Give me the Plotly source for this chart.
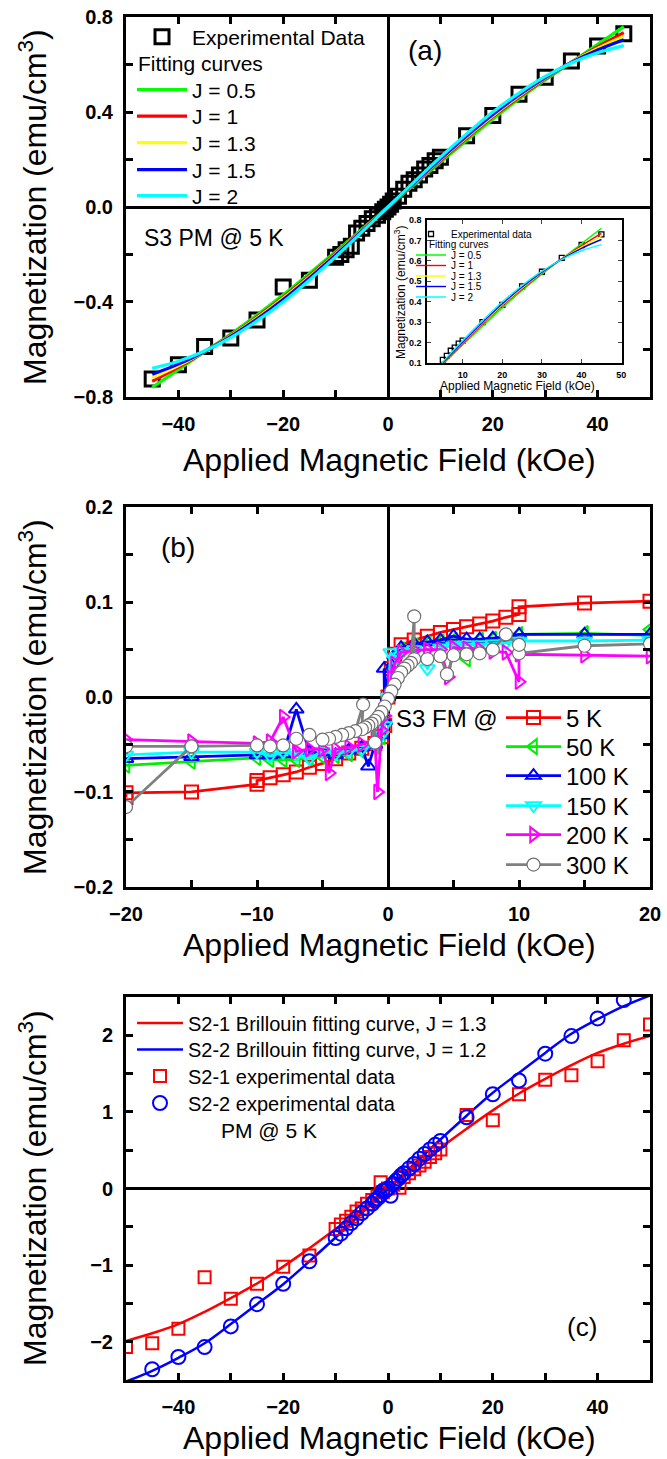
import plotly.graph_objects as go

W, H = 667, 1459
FONT = "Liberation Sans, Arial, sans-serif"

# ---------------- Panel (a) data ----------------
exp_a_x = [-45, -40, -35, -30, -25, -20, -15, -10, -9, -8, -7, -6, -5, -4, -3, -2, -1, -0.5, 0,
           0.5, 1, 2, 3, 4, 5, 6, 7, 8, 9, 10, 15, 20, 25, 30, 35, 40, 45]
exp_a_y = [-0.725, -0.665, -0.588, -0.552, -0.476, -0.337, -0.309, -0.212, -0.2, -0.18, -0.165,
           -0.11, -0.09, -0.07, -0.05, -0.035, -0.02, -0.01, 0.0,
           0.012, 0.025, 0.045, 0.075, 0.1, 0.115, 0.135, 0.16, 0.175, 0.195, 0.21,
           0.3, 0.385, 0.475, 0.547, 0.615, 0.678, 0.73]

fit_a_x = [-45, -40, -35, -30, -25, -20, -15, -10, -5, 0, 5, 10, 15, 20, 25, 30, 35, 40, 45]
fit_j05 = [-0.76, -0.685, -0.61, -0.535, -0.455, -0.37, -0.28, -0.188, -0.094, 0,
           0.094, 0.188, 0.28, 0.37, 0.455, 0.535, 0.61, 0.685, 0.76]
fit_j1 = [-0.735, -0.675, -0.61, -0.54, -0.463, -0.38, -0.29, -0.195, -0.098, 0,
          0.098, 0.195, 0.29, 0.38, 0.463, 0.54, 0.61, 0.675, 0.735]
fit_j13 = [-0.72, -0.668, -0.61, -0.543, -0.468, -0.385, -0.295, -0.199, -0.1, 0,
           0.1, 0.199, 0.295, 0.385, 0.468, 0.543, 0.61, 0.668, 0.72]
fit_j15 = [-0.705, -0.662, -0.609, -0.545, -0.472, -0.39, -0.299, -0.202, -0.102, 0,
           0.102, 0.202, 0.299, 0.39, 0.472, 0.545, 0.609, 0.662, 0.705]
fit_j2 = [-0.68, -0.65, -0.607, -0.55, -0.48, -0.4, -0.308, -0.21, -0.106, 0,
          0.106, 0.21, 0.308, 0.4, 0.48, 0.55, 0.607, 0.65, 0.68]
fit_names = ["J = 0.5", "J = 1", "J = 1.3", "J = 1.5", "J = 2"]
fit_colors = ["#00FF00", "#FF0000", "#FFFF00", "#0000FF", "#00FFFF"]

# ---------------- Panel (b) data ----------------
b_names = ["5 K", "50 K", "100 K", "150 K", "200 K", "300 K"]
x5k = [20, 15, 10, 10, 9, 8, 7, 6, 5, 4, 3, 2, 1, 0.5, 0.25, 0, -0.25, -0.5, -1, -2, -3, -4, -5,
       -6, -7, -8, -9, -10, -10, -15, -20, -20]
y5k = [0.101, 0.099, 0.095, 0.087, 0.084, 0.080, 0.077, 0.074, 0.071, 0.068, 0.064, 0.060, 0.055,
       0.045, 0.030, 0.000, -0.030, -0.042, -0.049, -0.054, -0.059, -0.065, -0.070, -0.074,
       -0.079, -0.082, -0.085, -0.088, -0.092, -0.100, -0.101, -0.106]
x50k = [20, 20, 15, 10, 9, 8, 7, 6, 5, 4, 3, 2, 1, 0.5, 0.25, 0, -0.25, -0.5, -1, -2, -3, -4, -5,
        -6, -7, -8, -9, -10, -15, -20]
y50k = [0.071, 0.065, 0.067, 0.066, 0.063, 0.061, 0.060, 0.040, 0.060, 0.058, 0.056, 0.054, 0.050,
        0.042, 0.028, 0.000, -0.028, -0.042, -0.052, -0.057, -0.060, -0.062, -0.063, -0.064,
        -0.066, -0.066, -0.066, -0.064, -0.068, -0.072]
x100k = [20, 15, 10, 9, 8, 7, 6, 5, 4, 3, 2, 1, 0.5, 0.25, 0, -0.3, -0.25, -0.5, -1, -1.5, -2,
         -3, -4, -5, -6, -7, -8, -9, -10, -15, -20]
y100k = [0.066, 0.066, 0.066, 0.063, 0.062, 0.061, 0.061, 0.064, 0.060, 0.058, 0.056, 0.052,
         0.044, 0.030, 0.000, 0.030, -0.025, -0.040, -0.050, -0.073, -0.053, -0.056, -0.061,
         -0.058, -0.058, -0.013, -0.060, -0.061, -0.061, -0.063, -0.065]
x150k = [20, 15, 10, 9, 8, 7, 6, 5, 4, 3, 2, 1, 0.5, 0.2, 0, -0.25, -0.5, -1, -2, -3, -4, -5,
         -6, -7, -8, -9, -10, -15, -20]
y150k = [0.060, 0.059, 0.059, 0.057, 0.056, 0.055, 0.055, 0.054, 0.052, 0.030, 0.050, 0.048,
         0.040, 0.047, 0.000, -0.030, -0.040, -0.050, -0.055, -0.057, -0.060, -0.057, -0.065,
         -0.061, -0.058, -0.062, -0.058, -0.058, -0.061]
x200k = [20, 15, 10, 10, 9, 8, 7, 6, 5, 4.6, 4, 3, 2, 1, 0.5, 0.25, 0, -0.25, -0.5, -0.8, -1,
         -2, -3, -4, -4.5, -5, -6, -7, -8, -9, -10, -15, -20]
y200k = [0.043, 0.044, 0.045, 0.016, 0.047, 0.048, 0.050, 0.051, 0.052, 0.021, 0.050, 0.050,
         0.049, 0.047, 0.035, 0.020, 0.000, -0.020, -0.035, -0.100, -0.045, -0.050, -0.053,
         -0.055, -0.080, -0.055, -0.055, -0.057, -0.021, -0.047, -0.049, -0.047, -0.045]
x300k = [20, 15, 10, 10, 9, 8, 7, 6, 5, 4.5, 4, 3, 2, 2, 1.75, 1.5, 1.25, 1, 0.75, 0.5, 0.25, 0,
         -0.25, -0.5, -0.75, -1, -1, -1.25, -1.5, -1.75, -2, -1.9, -2.5, -3, -3.5, -4, -4.5, -5,
         -6, -7, -8, -9, -10, -15, -20, -15, -20]
y300k = [0.056, 0.054, 0.046, 0.055, 0.066, 0.050, 0.046, 0.045, 0.044, 0.024, 0.043, 0.040,
         0.040, 0.085, 0.036, 0.033, 0.030, 0.026, 0.020, 0.013, 0.006, -0.002,
         -0.010, -0.016, -0.021, -0.025, -0.048, -0.028, -0.030, -0.032, -0.034, -0.008,
         -0.036, -0.038, -0.040, -0.042, -0.044, -0.045,
         -0.040, -0.044, -0.051, -0.052, -0.051, -0.052, -0.052, -0.052, -0.116]
b_x = [x5k, x50k, x100k, x150k, x200k, x300k]
b_y = [y5k, y50k, y100k, y150k, y200k, y300k]
b_colors = ["#FF0000", "#00EE00", "#0000FF", "#00FFFF", "#FF00FF", "#808080"]
b_symbols = ["square-open", "triangle-left-open", "triangle-up-open", "triangle-down-open",
             "triangle-right-open", "circle"]

# ---------------- Panel (c) data ----------------
fit_c_x = [-50, -45, -40, -35, -30, -25, -20, -15, -10, -5, 0, 5, 10, 15, 20, 25, 30, 35, 40, 45, 50]
fit_c_s21 = [-1.99, -1.89, -1.77, -1.61, -1.43, -1.24, -1.02, -0.78, -0.53, -0.27, 0,
             0.27, 0.53, 0.78, 1.02, 1.24, 1.43, 1.61, 1.77, 1.89, 1.99]
fit_c_s22 = [-2.52, -2.38, -2.21, -2.02, -1.77, -1.51, -1.25, -0.95, -0.64, -0.32, 0,
             0.32, 0.64, 0.95, 1.25, 1.51, 1.77, 2.02, 2.21, 2.38, 2.52]
s21_x = [-50, -45, -40, -35, -30, -25, -20, -15, -10, -9, -8, -7, -6, -5, -4, -3, -2, -1.4, -1, 0,
         1, 2.2, 3, 4, 5, 6, 7, 8, 9, 10, 15, 20, 25, 30, 35, 40, 45, 50]
s21_y = [-2.07, -2.02, -1.83, -1.16, -1.44, -1.245, -1.02, -0.876, -0.53, -0.47, -0.42, -0.37,
         -0.3, -0.26, -0.2, -0.15, -0.1, 0.08, -0.05, 0.0, 0.05, 0.01, 0.15, 0.2, 0.25, 0.3, 0.35,
         0.41, 0.46, 0.51, 0.96, 0.89, 1.23, 1.42, 1.48, 1.66, 1.935, 2.14]
s22_x = [-45, -40, -35, -30, -25, -20, -15, -10, -9, -8, -7, -6, -5, -4, -3, -2.5, -2, -1.5, -1,
         -0.5, 0, 0.5, 1, 1.5, 2, 2.5, 3, 4, 5, 6, 7, 8, 9, 10, 15, 20, 25, 30, 35, 40, 45]
s22_y = [-2.36, -2.2, -2.07, -1.8, -1.51, -1.245, -0.95, -0.646, -0.59, -0.52, -0.45, -0.39,
         -0.32, -0.26, -0.2, -0.16, -0.13, -0.09, -0.03, -0.03, 0.0, -0.095, 0.06, 0.1, 0.13,
         0.17, 0.2, 0.26, 0.32, 0.39, 0.45, 0.51, 0.57, 0.62, 0.93, 1.23, 1.41, 1.76, 1.99, 2.22, 2.46]


def px(v):
    return v / W


def py(v):
    return 1 - v / H


fig = go.Figure()

# ---- panel (a) ----
fig.add_trace(go.Scatter(x=exp_a_x, y=exp_a_y, mode="markers", name="Experimental Data",
                         marker=dict(symbol="square-open", size=14, color="black",
                                     line=dict(width=3, color="black")),
                         xaxis="x", yaxis="y", legend="legend"))
for i, (ys, nm, col) in enumerate(zip([fit_j05, fit_j1, fit_j13, fit_j15, fit_j2], fit_names, fit_colors)):
    fig.add_trace(go.Scatter(x=fit_a_x, y=ys, mode="lines", name=nm,
                             line=dict(color=col, width=3.2, shape="spline"),
                             xaxis="x", yaxis="y", legend="legend%d" % (i + 2)))

# ---- inset ----
ins_x = [v for v in exp_a_x if v >= 4.5]
ins_y = [exp_a_y[k] for k, v in enumerate(exp_a_x) if v >= 4.5]
fig.add_trace(go.Scatter(x=ins_x, y=ins_y, mode="markers", name="Experimental data",
                         marker=dict(symbol="square-open", size=5, color="black",
                                     line=dict(width=1.3, color="black")),
                         xaxis="x4", yaxis="y4", legend="legend7"))
for i, (ys, nm, col) in enumerate(zip([fit_j05, fit_j1, fit_j13, fit_j15, fit_j2], fit_names, fit_colors)):
    fig.add_trace(go.Scatter(x=fit_a_x[9:], y=ys[9:], mode="lines", name=nm,
                             line=dict(color=col, width=1.4, shape="spline"),
                             xaxis="x4", yaxis="y4", legend="legend%d" % (i + 8)))

# ---- panel (b) ----
for i in range(6):
    mk = dict(symbol=b_symbols[i], size=13, color=b_colors[i], line=dict(width=2, color=b_colors[i]))
    if b_symbols[i] == "circle":
        mk = dict(symbol="circle", size=13, color="white", line=dict(width=1.2, color="#707070"))
    fig.add_trace(go.Scatter(x=b_x[i], y=b_y[i], mode="lines+markers", name=b_names[i],
                             line=dict(color=b_colors[i], width=2.8), marker=mk,
                             xaxis="x2", yaxis="y2", legend="legend%d" % (i + 13)))

# ---- panel (c) ----
fig.add_trace(go.Scatter(x=fit_c_x, y=fit_c_s21, mode="lines",
                         name="S2-1 Brillouin fitting curve, J = 1.3",
                         line=dict(color="#FF0000", width=2.5, shape="spline"),
                         xaxis="x3", yaxis="y3", legend="legend19"))
fig.add_trace(go.Scatter(x=fit_c_x, y=fit_c_s22, mode="lines",
                         name="S2-2 Brillouin fitting curve, J = 1.2",
                         line=dict(color="#0000FF", width=2.5, shape="spline"),
                         xaxis="x3", yaxis="y3", legend="legend20"))
fig.add_trace(go.Scatter(x=s21_x, y=s21_y, mode="markers", name="S2-1 experimental data",
                         marker=dict(symbol="square-open", size=12, color="#FF0000",
                                     line=dict(width=2, color="#FF0000")),
                         xaxis="x3", yaxis="y3", legend="legend21"))
fig.add_trace(go.Scatter(x=s22_x, y=s22_y, mode="markers", name="S2-2 experimental data",
                         marker=dict(symbol="circle-open", size=14, color="#0000FF",
                                     line=dict(width=2, color="#0000FF")),
                         xaxis="x3", yaxis="y3", legend="legend22"))

# ---------------- axes ----------------
XD = [px(126), px(650)]
tickfont = dict(family=FONT, size=20, color="black", weight="bold")


def ax(domain, rng, dtick, mdtick, fmt=None, zero=True, anchor=None, standoff=4):
    d = dict(domain=domain, range=rng, dtick=dtick, tick0=0, showline=True, linewidth=3,
             linecolor="black", mirror="allticks", ticks="inside", ticklen=7, tickwidth=2.5,
             tickcolor="black", showgrid=False, zeroline=zero, zerolinewidth=2.8,
             zerolinecolor="black", tickfont=tickfont, anchor=anchor,
             ticklabelstandoff=standoff,
             minor=dict(dtick=mdtick, tick0=0, ticks="inside", ticklen=7, tickwidth=2.5,
                        tickcolor="black", showgrid=False))
    if fmt:
        d["tickformat"] = fmt
    return d


layout = dict(
    width=W, height=H, margin=dict(l=0, r=0, t=0, b=0, autoexpand=False),
    paper_bgcolor="white", plot_bgcolor="white", font=dict(family=FONT, color="black"),
    xaxis=ax(XD, [-50, 50], 20, 10, anchor="y", standoff=7),
    yaxis=ax([py(397), py(17)], [-0.8005, 0.8005], 0.4, 0.2, fmt=".1f", anchor="x", standoff=6),
    xaxis2=ax(XD, [-20, 20], 10, 5, anchor="y2", standoff=7),
    yaxis2=ax([py(887), py(507)], [-0.2002, 0.2002], 0.1, 0.05, fmt=".1f", anchor="x2", standoff=6),
    xaxis3=ax(XD, [-50, 50], 20, 10, zero=False, anchor="y3", standoff=7),
    yaxis3=ax([py(1380), py(997)], [-2.5, 2.5], 1, 0.5, anchor="x3", standoff=6),
)
ins_tick = dict(family=FONT, size=9, color="black", weight="bold")
layout["xaxis4"] = dict(domain=[px(427), px(622)], range=[1, 50.2], dtick=10, tick0=0, anchor="y4",
                        showline=True, linewidth=1.5, linecolor="black", mirror="allticks",
                        ticks="inside", ticklen=4, tickwidth=1, showgrid=False, zeroline=False,
                        tickfont=ins_tick, ticklabelstandoff=2)
layout["yaxis4"] = dict(domain=[py(363), py(220)], range=[0.1, 0.8005], dtick=0.1, tick0=0, anchor="x4",
                        showline=True, linewidth=1.5, linecolor="black", mirror="allticks",
                        ticks="inside", ticklen=4, tickwidth=1, showgrid=False, zeroline=False,
                        tickfont=ins_tick, tickformat=".1f", ticklabelstandoff=2)

# ---------------- legends (one per row) ----------------
def leg(text_x, y, size, itemwidth):
    return dict(x=px(text_x - itemwidth - 10), y=py(y), xanchor="left", yanchor="middle",
                xref="paper", yref="paper",
                font=dict(family=FONT, size=size, color="black"), bgcolor="rgba(0,0,0,0)",
                borderwidth=0, itemwidth=itemwidth, tracegroupgap=0)


rows_a = [37, 90, 116.5, 143, 170, 196]
for k, yv in enumerate(rows_a):
    layout["legend" if k == 0 else "legend%d" % (k + 1)] = leg(192, yv, 21, 50)
rows_in = [234, 255, 265.5, 276, 286.5, 297]
for k, yv in enumerate(rows_in):
    layout["legend%d" % (k + 7)] = leg(451, yv, 10, 30)
rows_b = [718, 747, 776, 806, 835, 865]
for k, yv in enumerate(rows_b):
    layout["legend%d" % (k + 13)] = leg(566, yv, 24, 55)
rows_c = [1023, 1049.5, 1076, 1103]
for k, yv in enumerate(rows_c):
    layout["legend%d" % (k + 19)] = leg(188, yv, 20, 46)

# ---------------- annotations ----------------
ann = []


def txt(t, x, y, size, xanchor="center", angle=0, yanchor="middle"):
    ann.append(dict(text=t, x=px(x), y=py(y), xref="paper", yref="paper", showarrow=False,
                    xanchor=xanchor, yanchor=yanchor, textangle=angle,
                    font=dict(family=FONT, size=size, color="black")))


ytitle = "Magnetization (emu/cm<sup>3</sup>)"
xtitle = "Applied Magnetic Field (kOe)"
txt(ytitle, 33, 207, 32, angle=-90)
txt(ytitle, 33, 697, 32, angle=-90)
txt(ytitle, 33, 1188, 32, angle=-90)
txt(xtitle, 389, 460, 32)
txt(xtitle, 389, 945, 32)
txt(xtitle, 389, 1438, 32)
txt("(a)", 425, 51, 28)
txt("S3 PM @ 5 K", 142, 238, 23, xanchor="left")
txt("Fitting curves", 136, 63, 21, xanchor="left")
txt("(b)", 178, 547, 28)
txt("S3 FM @", 394, 718, 24, xanchor="left")
txt("(c)", 582, 1327, 26)
txt("PM @ 5 K", 219, 1130, 21, xanchor="left")
# inset texts
txt(ytitle, 400, 293, 12, angle=-90)
txt(xtitle, 517, 386, 12)
txt("Fitting curves", 427, 244.5, 10, xanchor="left")
layout["annotations"] = ann
layout["showlegend"] = True

fig.update_layout(**layout)
fig.write_html("out.html")
